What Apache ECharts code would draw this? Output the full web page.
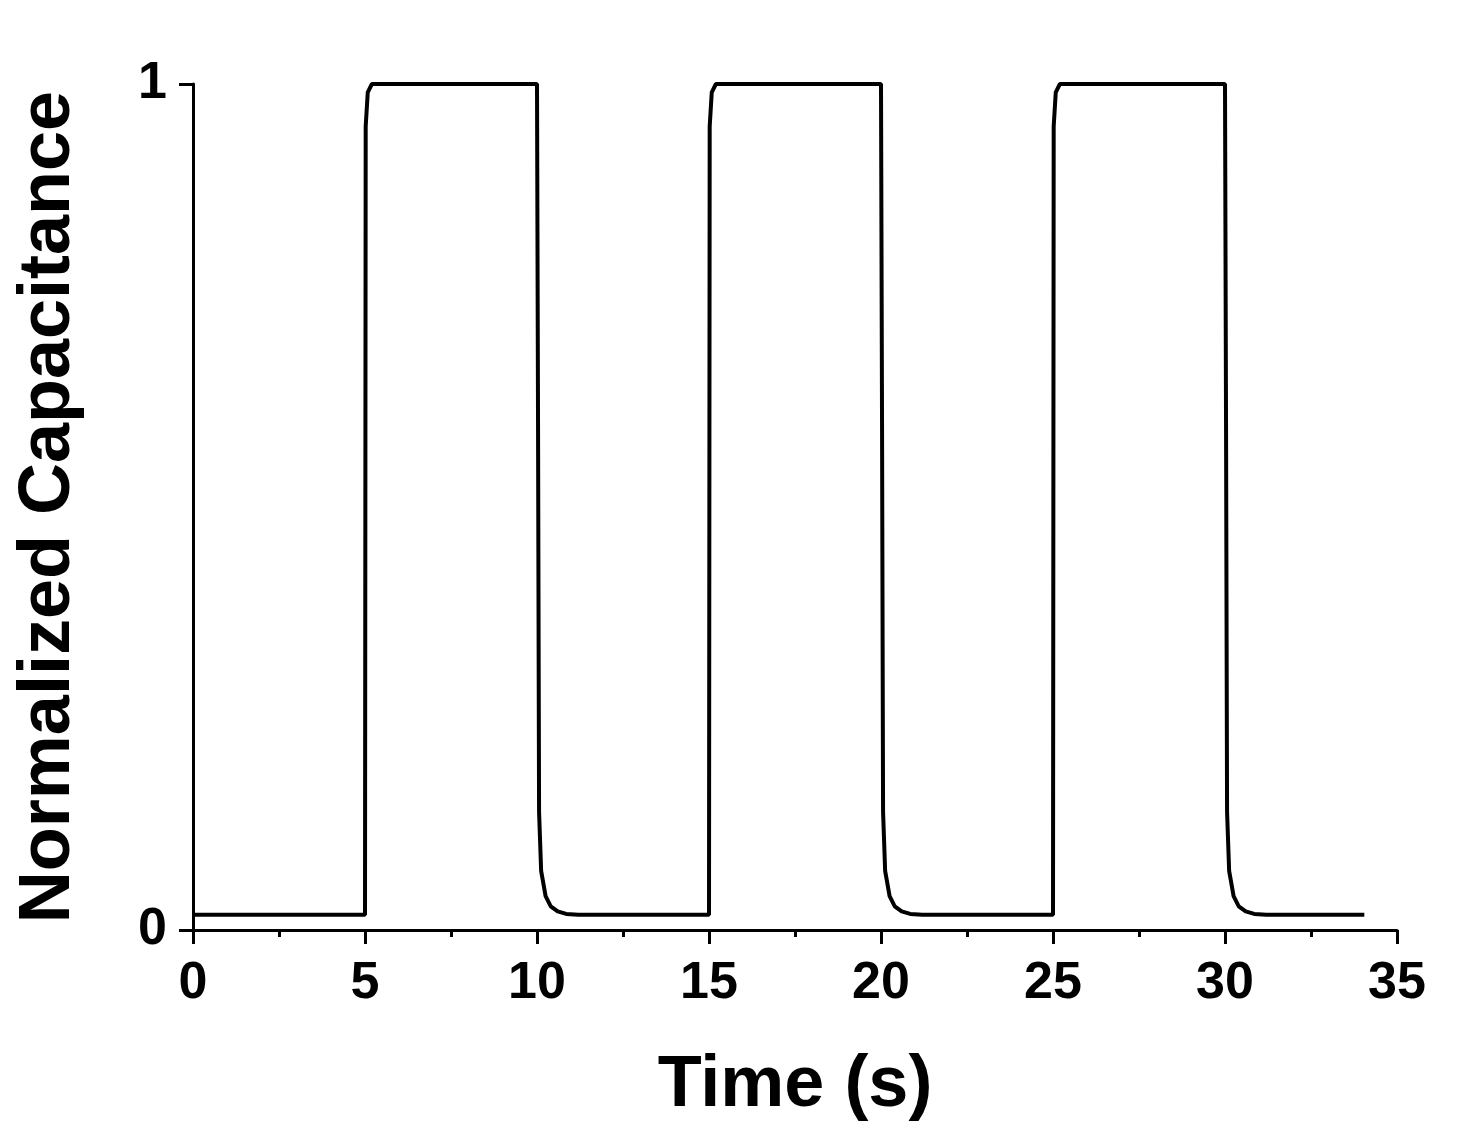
<!DOCTYPE html>
<html>
<head>
<meta charset="utf-8">
<script src="https://cdn.jsdelivr.net/npm/echarts@6/dist/echarts.min.js"></script>
<style>
  html, body { margin: 0; padding: 0; background: #fff; }
  #chart { width: 1460px; height: 1128px; }
</style>
</head>
<body>
<div id="chart"></div>
<script>
// time (s) and normalized capacitance
const timeValues = [
  0, 5.0, 5.02, 5.08, 5.2, 10.0, 10.03, 10.06, 10.12, 10.25, 10.4, 10.6, 10.85, 11.2,
  15.0, 15.02, 15.08, 15.2, 20.0, 20.03, 20.06, 20.12, 20.25, 20.4, 20.6, 20.85, 21.2,
  25.0, 25.02, 25.08, 25.2, 30.0, 30.03, 30.06, 30.12, 30.25, 30.4, 30.6, 30.85, 31.2, 34.05
];
const capValues = [
  0.018, 0.018, 0.95, 0.99, 1.0, 1.0, 0.6, 0.14, 0.07, 0.04, 0.028, 0.022, 0.019, 0.018,
  0.018, 0.95, 0.99, 1.0, 1.0, 0.6, 0.14, 0.07, 0.04, 0.028, 0.022, 0.019, 0.018,
  0.018, 0.95, 0.99, 1.0, 1.0, 0.6, 0.14, 0.07, 0.04, 0.028, 0.022, 0.019, 0.018, 0.018
];
const xTicks = [0, 5, 10, 15, 20, 25, 30, 35];
const yTicks = [0, 1];

const points = timeValues.map((t, i) => [t, capValues[i]]);
const font = "'Liberation Sans', Arial, sans-serif";

const chart = echarts.init(document.getElementById("chart"));
chart.setOption({
  animation: false,
  grid: { left: 193, right: 63, top: 84, bottom: 198 },
  xAxis: {
    type: "value",
    min: xTicks[0],
    max: xTicks[xTicks.length - 1],
    interval: 5,
    name: "Time (s)",
    nameLocation: "middle",
    nameGap: 120,
    nameTextStyle: { fontFamily: font, fontWeight: "bold", fontSize: 72, color: "#000" },
    axisLine: { lineStyle: { color: "#000", width: 3 } },
    axisTick: { length: 14, lineStyle: { color: "#000", width: 3 } },
    minorTick: { show: true, splitNumber: 2, length: 7, lineStyle: { color: "#000", width: 3 } },
    axisLabel: { fontFamily: font, fontWeight: "bold", fontSize: 52, color: "#000", margin: 28 },
    splitLine: { show: false }
  },
  yAxis: {
    type: "value",
    min: yTicks[0],
    max: yTicks[1],
    interval: 1,
    name: "Normalized Capacitance",
    nameLocation: "middle",
    nameGap: 108,
    nameTextStyle: { fontFamily: font, fontWeight: "bold", fontSize: 72, color: "#000" },
    axisLine: { lineStyle: { color: "#000", width: 3 } },
    axisTick: { length: 14, lineStyle: { color: "#000", width: 3 } },
    axisLabel: { fontFamily: font, fontWeight: "bold", fontSize: 52, color: "#000", margin: 26 },
    splitLine: { show: false }
  },
  series: [{
    type: "line",
    data: points,
    showSymbol: false,
    lineStyle: { color: "#000", width: 4 }
  }]
});
</script>
</body>
</html>
